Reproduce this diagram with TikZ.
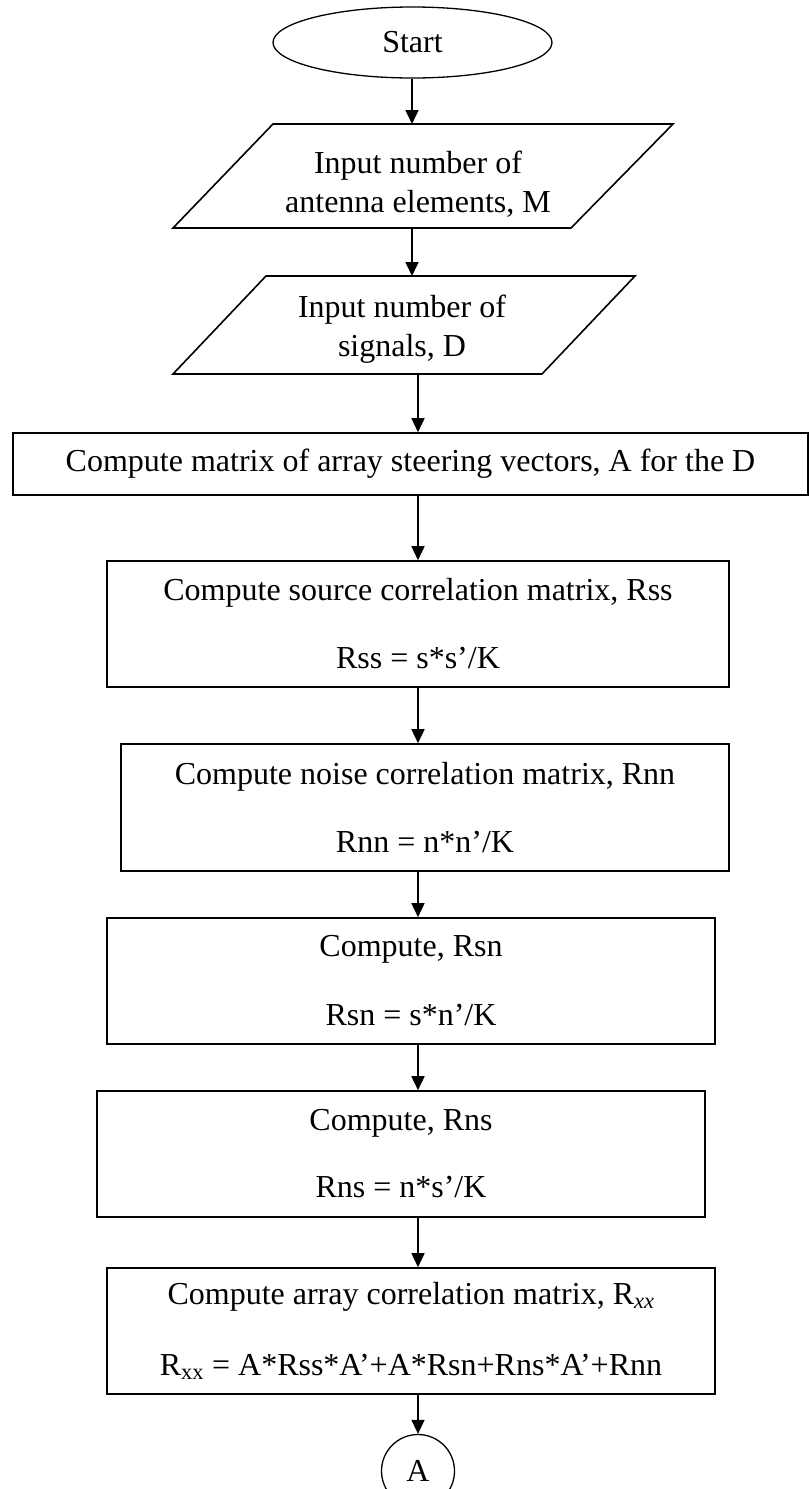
\documentclass[tikz,border=0pt]{standalone}
\usepackage{fontspec}
\setmainfont{Liberation Serif}
\usetikzlibrary{arrows.meta,shapes.geometric}
\tikzset{
  txt/.style={font=\fontsize{32}{37}\selectfont, inner sep=0pt, align=center},
  box/.style={draw, line width=1.6pt, inner sep=0pt, align=center, font=\fontsize{32}{37}\selectfont},
  term/.style={draw, ellipse, line width=1.3pt, inner sep=0pt, font=\fontsize{32}{37}\selectfont},
  conn/.style={draw, circle, line width=1.3pt, inner sep=0pt, font=\fontsize{32}{37}\selectfont},
  io/.style={line width=1.6pt},
  arr/.style={line width=1.6pt, -{Triangle[length=14pt,width=13pt]}}
}
\begin{document}
\begin{tikzpicture}[x=1pt,y=-1pt]
\useasboundingbox (0,0) rectangle (810,1489);
% start
\node[term, minimum width=279, minimum height=71] (start) at (412.5,42.5) {Start};
% parallelogram 1
\draw[io] (273,124) -- (673,124) -- (571,228) -- (173,228) -- cycle;
\node[txt] (p1) at (418,184) {Input number of\\[2pt]antenna elements, M};
\coordinate (p1t) at (412,124);
\coordinate (p1b) at (412,228);
% parallelogram 2
\draw[io] (266,276) -- (635,276) -- (542,374) -- (173,374) -- cycle;
\node[txt] (p2) at (402,329) {Input number of\\[2pt]signals, D};
\coordinate (p2t) at (412,276);
\coordinate (p2b) at (418,374);
% boxes
\node[box, minimum width=795, minimum height=62] (b3) at (410.5,464) {Compute matrix of array steering vectors, A for the D};
\node[box, minimum width=622, minimum height=126] (b4) at (418,624) {Compute source correlation matrix, Rss\\[31pt]Rss = s*s’/K};
\node[box, minimum width=608, minimum height=127] (b5) at (425,807.5) {Compute noise correlation matrix, Rnn\\[31pt]Rnn = n*n’/K};
\node[box, minimum width=608, minimum height=126] (b6) at (411,981) {Compute, Rsn\\[32pt]Rsn = s*n’/K};
\node[box, minimum width=608, minimum height=126] (b7) at (401,1154) {Compute, Rns\\[30pt]Rns = n*s’/K};
\node[box, minimum width=608, minimum height=126] (b8) at (411,1331) {Compute array correlation matrix, R\textsubscript{\textit{xx}}\\[34pt]R\textsubscript{xx} = A*Rss*A’+A*Rsn+Rns*A’+Rnn};
\node[conn, minimum size=73] (A) at (418,1471) {A};
% connectors
\coordinate (ax) at (418,0);
\draw[arr] (start.south -| p1t) -- (p1t);
\draw[arr] (p1b) -- (p2t);
\draw[arr] (p2b) -- (ax |- b3.north);
\draw[arr] (ax |- b3.south) -- (ax |- b4.north);
\draw[arr] (ax |- b4.south) -- (ax |- b5.north);
\draw[arr] (ax |- b5.south) -- (ax |- b6.north);
\draw[arr] (ax |- b6.south) -- (ax |- b7.north);
\draw[arr] (ax |- b7.south) -- (ax |- b8.north);
\draw[arr] (ax |- b8.south) -- (A.north);
\end{tikzpicture}
\end{document}
